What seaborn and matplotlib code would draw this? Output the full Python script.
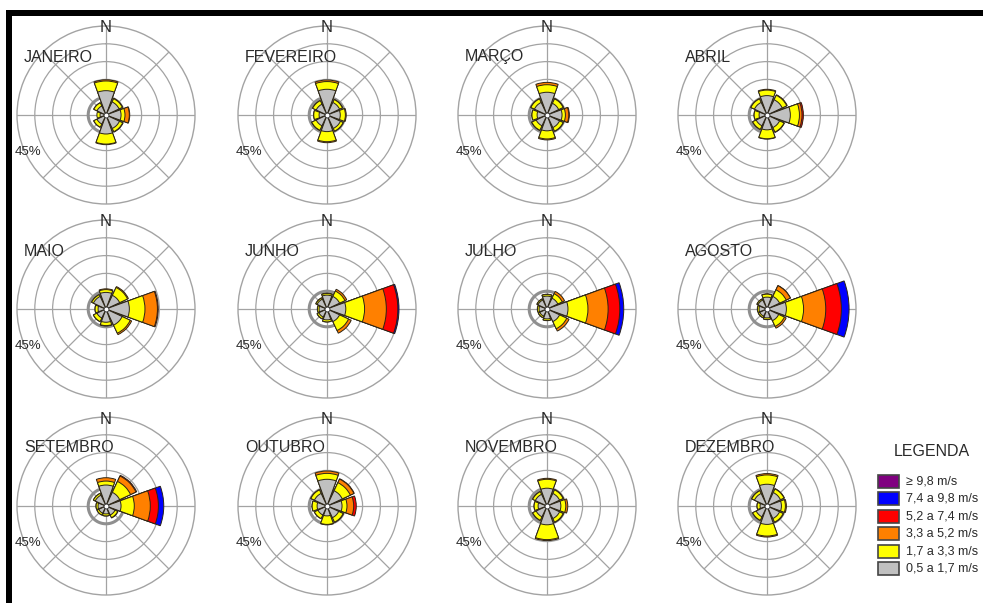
import numpy as np
import pandas as pd
import matplotlib
matplotlib.use("Agg")
import matplotlib.pyplot as plt
from matplotlib.patches import Rectangle
import seaborn as sns

# ---------------- data ----------------
months = ["JANEIRO", "FEVEREIRO", "MARÇO", "ABRIL", "MAIO", "JUNHO",
          "JULHO", "AGOSTO", "SETEMBRO", "OUTUBRO", "NOVEMBRO", "DEZEMBRO"]
directions = ["N", "NE", "E", "SE", "S", "SW", "W", "NW"]
direction_deg = [0, 45, 90, 135, 180, 225, 270, 315]
classes = ["0,5 a 1,7 m/s", "1,7 a 3,3 m/s", "3,3 a 5,2 m/s",
           "5,2 a 7,4 m/s", "7,4 a 9,8 m/s", "\u2265 9,8 m/s"]
class_colors = ["#c0c0c0", "#ffff00", "#ff8000", "#ff0000", "#0000ff", "#800080"]
legend_order = [5, 4, 3, 2, 1, 0]

# frequency (%) per month (rows) and direction N, NE, E, SE, S, SW, W, NW (cols)
speed_05_17 = [
    [12.3, 7.3, 7.6, 7.5, 9.6, 5.0, 3.0, 5.0],
    [13.0, 7.0, 6.7, 7.5, 8.4, 6.0, 4.0, 6.0],
    [11.5, 6.5, 7.6, 7.0, 8.0, 6.0, 5.0, 7.0],
    [9.8, 8.5, 11.8, 7.0, 7.5, 6.0, 4.0, 7.0],
    [8.4, 7.6, 11.8, 9.0, 6.7, 5.0, 4.0, 7.0],
    [7.0, 7.0, 9.5, 7.0, 5.5, 4.5, 4.0, 5.5],
    [6.5, 6.0, 10.6, 7.0, 5.0, 4.0, 4.0, 5.0],
    [6.0, 7.0, 9.8, 6.5, 4.5, 4.0, 4.0, 5.0],
    [10.6, 7.6, 7.6, 5.0, 4.0, 4.0, 4.0, 6.0],
    [13.5, 8.5, 7.6, 6.5, 5.0, 5.0, 5.0, 7.0],
    [9.0, 7.0, 7.0, 7.0, 9.5, 6.0, 4.5, 6.5],
    [11.0, 7.5, 7.3, 7.0, 9.3, 6.0, 3.5, 7.0],
]
speed_17_33 = [
    [4.9, 1.8, 2.0, 1.8, 5.1, 1.8, 1.6, 1.8],
    [3.9, 1.6, 2.6, 1.5, 5.1, 2.5, 2.7, 2.0],
    [3.8, 2.5, 1.7, 2.0, 4.1, 2.5, 2.6, 2.0],
    [2.8, 2.5, 4.6, 2.5, 4.5, 2.0, 2.5, 2.0],
    [1.4, 4.4, 7.9, 4.5, 1.7, 2.0, 1.5, 1.0],
    [0.8, 3.0, 9.5, 5.0, 1.0, 1.0, 0.8, 0.7],
    [0.8, 2.5, 10.1, 4.0, 0.8, 0.8, 0.8, 0.6],
    [1.5, 3.7, 8.7, 3.2, 0.8, 0.8, 0.8, 0.6],
    [2.0, 6.1, 6.7, 1.5, 1.0, 1.0, 1.0, 1.0],
    [3.0, 4.5, 2.5, 2.5, 4.3, 2.0, 2.5, 2.0],
    [4.5, 2.0, 2.5, 2.0, 7.5, 2.0, 2.0, 1.5],
    [4.7, 2.0, 2.0, 2.0, 5.9, 2.0, 1.5, 1.5],
]
speed_33_52 = [
    [0.6, 0.2, 2.2, 0.2, 0.3, 0.1, 0.0, 0.1],
    [0.8, 0.1, 0.4, 0.1, 0.5, 0.1, 0.1, 0.1],
    [1.2, 0.2, 1.7, 0.1, 0.5, 0.1, 0.1, 0.1],
    [0.4, 0.3, 1.3, 0.2, 0.2, 0.1, 0.1, 0.1],
    [0.4, 0.5, 6.3, 0.8, 0.2, 0.1, 0.1, 0.1],
    [0.2, 1.0, 11.0, 1.5, 0.1, 0.1, 0.1, 0.1],
    [0.2, 1.3, 10.2, 1.3, 0.1, 0.1, 0.1, 0.1],
    [0.2, 2.3, 11.2, 1.0, 0.1, 0.1, 0.1, 0.1],
    [1.7, 3.0, 8.1, 0.2, 0.1, 0.1, 0.1, 0.1],
    [1.2, 2.0, 3.4, 0.2, 0.2, 0.1, 0.1, 0.1],
    [0.5, 0.2, 1.0, 0.2, 0.5, 0.1, 0.1, 0.1],
    [0.7, 0.2, 0.5, 0.2, 0.5, 0.1, 0.1, 0.1],
]
speed_52_74 = [
    [0, 0, 0.2, 0, 0, 0, 0, 0],
    [0, 0, 0, 0, 0, 0, 0, 0],
    [0, 0, 0.3, 0, 0, 0, 0, 0],
    [0, 0, 0.7, 0, 0, 0, 0, 0],
    [0, 0, 0.4, 0, 0, 0, 0, 0],
    [0, 0, 5.8, 0, 0, 0, 0, 0],
    [0, 0, 5.9, 0, 0, 0, 0, 0],
    [0, 0.1, 7.9, 0, 0, 0, 0, 0],
    [0, 0.4, 4.1, 0, 0, 0, 0, 0],
    [0, 0.2, 1.3, 0, 0, 0, 0, 0],
    [0, 0, 0, 0, 0, 0, 0, 0],
    [0, 0, 0, 0, 0, 0, 0, 0],
]
speed_74_98 = [
    [0, 0, 0, 0, 0, 0, 0, 0],
    [0, 0, 0, 0, 0, 0, 0, 0],
    [0, 0, 0, 0, 0, 0, 0, 0],
    [0, 0, 0, 0, 0, 0, 0, 0],
    [0, 0, 0, 0, 0, 0, 0, 0],
    [0, 0, 0.6, 0, 0, 0, 0, 0],
    [0, 0, 2.0, 0, 0, 0, 0, 0],
    [0, 0, 3.9, 0, 0, 0, 0, 0],
    [0, 0, 2.7, 0, 0, 0, 0, 0],
    [0, 0, 0, 0, 0, 0, 0, 0],
    [0, 0, 0, 0, 0, 0, 0, 0],
    [0, 0, 0, 0, 0, 0, 0, 0],
]
speed_98_up = [
    [0, 0, 0, 0, 0, 0, 0, 0] for _ in range(12)
]
ring_values = [9, 18, 27, 36]
rmax = 45
scale_label = "45%"

# ---------------- long table ----------------
class_arrays = [speed_05_17, speed_17_33, speed_33_52, speed_52_74, speed_74_98, speed_98_up]
rows = []
for mi, m in enumerate(months):
    for di, d in enumerate(directions):
        cum = 0.0
        for ci, arr in enumerate(class_arrays):
            v = arr[mi][di]
            cum += v
            rows.append(dict(month=m, direction=d, theta=np.deg2rad(direction_deg[di]),
                             cls=ci, value=v, cum=cum))
df = pd.DataFrame(rows)

# ---------------- style ----------------
sns.set_theme(style="white")
plt.rcParams["font.family"] = ["Liberation Sans", "DejaVu Sans"]

W, H = 983, 603
fig = plt.figure(figsize=(W / 100, H / 100), dpi=100)
fig.patch.set_facecolor("white")

R = 89
col_x = [106, 327, 547, 767]
row_y = [115, 309, 506]
grid_col = "#a3a3a3"
edge_col = "#2b2416"

for mi, m in enumerate(months):
    cx = col_x[mi % 4]
    cy = row_y[mi // 4]
    ax = fig.add_axes([(cx - R) / W, 1 - (cy + R) / H, 2 * R / W, 2 * R / H],
                      projection="polar")
    ax.set_theta_zero_location("N")
    ax.set_theta_direction(-1)
    sub = df[df.month == m]
    for ci in range(len(classes) - 1, -1, -1):
        layer = sub[sub.cls == ci].sort_values("theta")
        if not (layer.value > 0).any():
            continue
        heights = np.where(layer.value.values > 0, layer.cum.values, 0.0)
        sns.barplot(x=layer.theta.values, y=heights, native_scale=True,
                    color=class_colors[ci], saturation=1, width=0.89,
                    errorbar=None, edgecolor=edge_col, linewidth=0.7, ax=ax)
    ax.set_xlim(0, 2 * np.pi)
    ax.set_ylim(0, rmax)
    ax.set_xticks(np.deg2rad(direction_deg))
    ax.set_xticklabels([])
    ax.set_yticks(ring_values)
    ax.set_yticklabels([])
    ax.set_xlabel("")
    ax.set_ylabel("")
    ax.tick_params(length=0)
    ax.grid(True, color=grid_col, linewidth=0.9)
    ax.set_axisbelow(True)
    ax.spines["polar"].set_edgecolor(grid_col)
    ax.spines["polar"].set_linewidth(1.0)
    tt = np.linspace(0, 2 * np.pi, 361)
    ax.plot(tt, np.full_like(tt, ring_values[0]), color="#8f8f8f", lw=2.2, zorder=0.8)
    ax.plot([0], [0], "o", ms=3.5, mfc="white", mec="#333333", mew=0.6, zorder=6)

# ---------------- overlay: labels, legend, frame ----------------
ov = fig.add_axes([0, 0, 1, 1], facecolor="none")
ov.set_xlim(0, W)
ov.set_ylim(H, 0)
ov.axis("off")
ov.set_zorder(10)

txt_col = "#2a2a2a"
for mi, m in enumerate(months):
    cx = col_x[mi % 4]
    cy = row_y[mi // 4]
    ov.text(cx, cy - 87, "N", ha="center", va="center", fontsize=12, color=txt_col)
    ov.text(cx - 82, cy - 58, m, ha="left", va="center", fontsize=11.5, color=txt_col)
    ov.text(cx - 91, cy + 37, scale_label, ha="left", va="center", fontsize=9.5, color=txt_col)

ov.text(932, 451, "LEGENDA", ha="center", va="center", fontsize=11.5, color=txt_col)
for j, ci in enumerate(legend_order):
    y0 = 475 + j * 17.4
    ov.add_patch(Rectangle((878, y0), 21, 13, facecolor=class_colors[ci],
                           edgecolor="#444444", linewidth=1.2))
    ov.text(906, y0 + 6.5, classes[ci], ha="left", va="center", fontsize=9, color=txt_col)

ov.add_patch(Rectangle((6, 10), W - 6, 6, facecolor="black", edgecolor="none"))
ov.add_patch(Rectangle((6, 10), 6, H - 10, facecolor="black", edgecolor="none"))

fig.savefig("out.png", dpi=100)
